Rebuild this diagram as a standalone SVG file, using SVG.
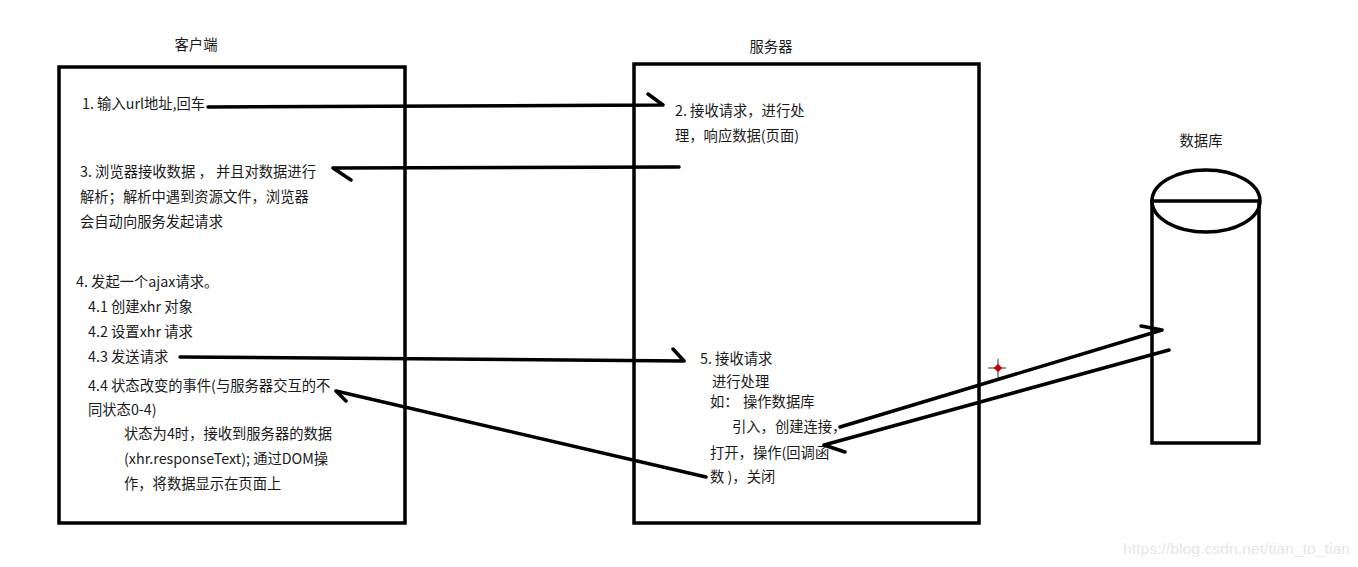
<svg xmlns="http://www.w3.org/2000/svg" width="1358" height="567" viewBox="0 0 1358 567">
<style>
.t{font-family:"Noto Sans CJK SC","Liberation Sans",sans-serif;font-size:14.3px;fill:#1a1a1a}
.box{fill:#fff;stroke:#000;stroke-width:3.5}
.ln{fill:none;stroke:#000;stroke-width:3.5;stroke-linecap:round}
.wm{font-family:"Liberation Sans",sans-serif;font-size:15px;fill:#e6e6e6}
</style>
<rect width="1358" height="567" fill="#fff"/>
<g id="client">
<text class="t" x="196" y="50" text-anchor="middle">客户端</text>
<rect class="box" x="59" y="67" width="346" height="456"/>
<text class="t" x="82" y="109">1. 输入url地址,回车</text>
<text class="t" x="80" y="177">3. 浏览器接收数据 ， 并且对数据进行</text>
<text class="t" x="80" y="202">解析；解析中遇到资源文件，浏览器</text>
<text class="t" x="80" y="227">会自动向服务发起请求</text>
<text class="t" x="76" y="287">4. 发起一个ajax请求。</text>
<text class="t" x="88" y="312">4.1 创建xhr 对象</text>
<text class="t" x="88" y="337">4.2 设置xhr 请求</text>
<text class="t" x="88" y="362">4.3 发送请求</text>
<text class="t" x="88" y="391">4.4 状态改变的事件(与服务器交互的不</text>
<text class="t" x="88" y="415">同状态0-4)</text>
<text class="t" x="124" y="439">状态为4时，接收到服务器的数据</text>
<text class="t" x="124" y="464">(xhr.responseText); 通过DOM操</text>
<text class="t" x="124" y="489">作，将数据显示在页面上</text>
</g>
<g id="server">
<text class="t" x="771" y="52" text-anchor="middle">服务器</text>
<rect class="box" x="634" y="64" width="345" height="459"/>
<text class="t" x="675" y="116">2. 接收请求，进行处</text>
<text class="t" x="675" y="141">理，响应数据(页面)</text>
<text class="t" x="700" y="364">5. 接收请求</text>
<text class="t" x="712" y="387">进行处理</text>
<text class="t" x="710" y="407">如：</text>
<text class="t" x="743" y="407">操作数据库</text>
<text class="t" x="732" y="432">引入，创建连接，</text>
<text class="t" x="710" y="458">打开，操作(回调函</text>
<text class="t" x="710" y="482">数 )，关闭</text>
</g>
<g id="database">
<text class="t" x="1201" y="146" text-anchor="middle">数据库</text>
<path class="ln" d="M1152,201 V443 H1259 V201"/>
<ellipse cx="1206" cy="201" rx="54" ry="31" fill="none" stroke="#000" stroke-width="3.5"/>
<line class="ln" x1="1152" y1="201" x2="1259" y2="201"/>
</g>
<g id="connectors">
<path class="ln" d="M208,107 L662,105 M648,94 L663,105"/>
<path class="ln" d="M679,167 L333,168 M333,168 L351,180"/>
<path class="ln" d="M180,357 L684,361 M673,349 L684,361"/>
<path class="ln" d="M706,477 L336,391 M336,391 L346,401"/>
<path class="ln" d="M840,427 L1162,330 M1141,326 L1162,330"/>
<path class="ln" d="M1169,350 L824,445 M824,445 L845,452"/>
</g>
<g id="cursor">
<line x1="988" y1="368" x2="1006" y2="368" stroke="#333" stroke-width="1"/>
<line x1="998" y1="359" x2="998" y2="378" stroke="#333" stroke-width="1"/>
<rect x="995" y="365" width="6" height="6" fill="#c00" transform="rotate(45 998 368)"/>
</g>
<text class="wm" x="1123" y="554" textLength="227" lengthAdjust="spacingAndGlyphs">https://blog.csdn.net/tian_to_tian</text>
</svg>
